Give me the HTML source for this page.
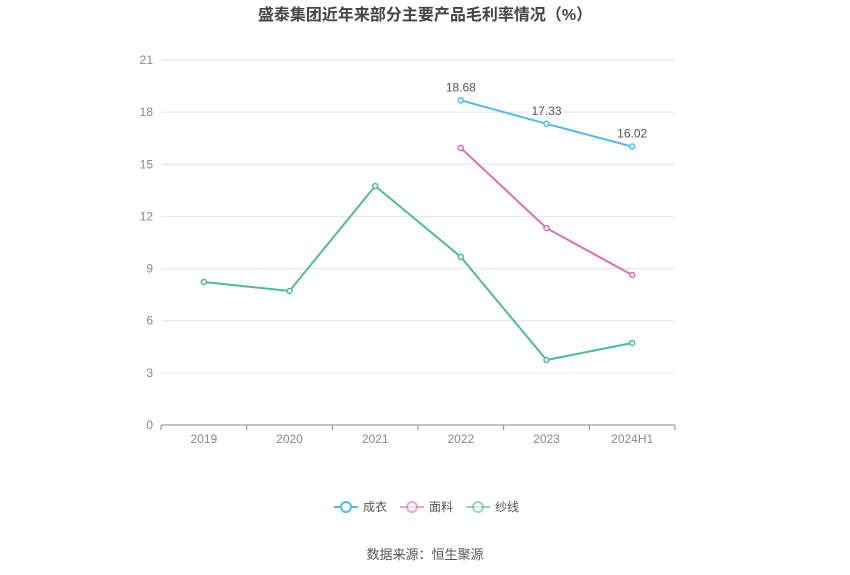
<!DOCTYPE html>
<html><head><meta charset="utf-8">
<style>
body{margin:0;background:#fff;font-family:"Liberation Sans","Noto Sans CJK SC",sans-serif;}
#wrap{position:relative;width:850px;height:575px;overflow:hidden;}
</style></head>
<body>
<div id="wrap">
<svg id="chart" width="850" height="575"></svg>
</div>
<script>
const categories=["2019","2020","2021","2022","2023","2024H1"];
const chengyi=[null,null,null,18.68,17.33,16.02];
const mianliao=[null,null,null,15.94,11.33,8.63];
const shaxian=[8.23,7.71,13.75,9.67,3.74,4.72];
const yTicks=[0,3,6,9,12,15,18,21];
const seriesNames=["成衣","面料","纱线"];
const colors=["#4dbbf0","#de6cb4","#4dbb9d"];

const NS="http://www.w3.org/2000/svg";
const svgEl=document.getElementById('chart');
const plotLeft=161,plotRight=675,plotTop=60,plotBottom=425,yMax=21;
const band=(plotRight-plotLeft)/categories.length;
const xPos=i=>plotLeft+band*(i+0.5);
const yPos=v=>plotBottom-(v/yMax)*(plotBottom-plotTop);
function mk(tag,attrs,parent){const e=document.createElementNS(NS,tag);for(const k in attrs)e.setAttribute(k,attrs[k]);(parent||svgEl).appendChild(e);return e;}

const title=mk('text',{x:425,y:20,'text-anchor':'middle','font-size':16,'font-weight':'bold',fill:'#444'});


title.textContent='盛泰集团近年来部分主要产品毛利率情况（%）';

yTicks.forEach(t=>{
  const g=mk('line',{x1:plotLeft,x2:plotRight,y1:yPos(t),y2:yPos(t),stroke:t===0?'#888':'#e3e6ef','stroke-width':1});
  
  
  const l=mk('text',{x:plotLeft-8,y:yPos(t)+4,'text-anchor':'end','font-size':12,fill:'#888'});
  
  
  l.textContent=t;
});
categories.forEach((c,i)=>{
  const tk=mk('line',{x1:plotLeft+band*i,x2:plotLeft+band*i,y1:plotBottom,y2:plotBottom+5,stroke:'#888'});
  
  
  const l=mk('text',{x:xPos(i),y:plotBottom+18,'text-anchor':'middle','font-size':12,fill:'#888'});
  
  
  l.textContent=c;
});
const te=mk('line',{x1:plotRight,x2:plotRight,y1:plotBottom,y2:plotBottom+5,stroke:'#888'});



[chengyi,mianliao,shaxian].forEach((data,si)=>{
  const pts=[];data.forEach((v,i)=>{if(v!=null)pts.push([xPos(i),yPos(v),v]);});
  const p=mk('polyline',{points:pts.map(p=>p[0]+','+p[1]).join(' '),fill:'none',stroke:colors[si],'stroke-width':2});
  
  
  pts.forEach(pt=>{
    const c=mk('circle',{cx:pt[0],cy:pt[1],r:2.5,fill:'#fff',stroke:colors[si],'stroke-width':1.5});
    
    
    if(si===0){
      const l=mk('text',{x:pt[0],y:pt[1]-9,'text-anchor':'middle','font-size':12,fill:'#555'});
      
      
      l.textContent=pt[2].toFixed(2);
    }
  });
});

const legX=[334,400,466];
seriesNames.forEach((n,i)=>{
  const g=mk('g',{});
  
  
  mk('line',{x1:legX[i],x2:legX[i]+24,y1:507,y2:507,stroke:colors[i],'stroke-width':2,opacity:i?0.6:1},g);
  mk('circle',{cx:legX[i]+12,cy:507,r:5,fill:'#fff',stroke:colors[i],'stroke-width':2,opacity:i?0.6:1},g);
  const t=mk('text',{x:legX[i]+29,y:511,'font-size':12,fill:'#555'},g);
  t.textContent=n;
});

const src=mk('text',{x:425,y:559,'text-anchor':'middle','font-size':13,fill:'#555'});


src.textContent='数据来源：恒生聚源';
</script>
</body></html>
